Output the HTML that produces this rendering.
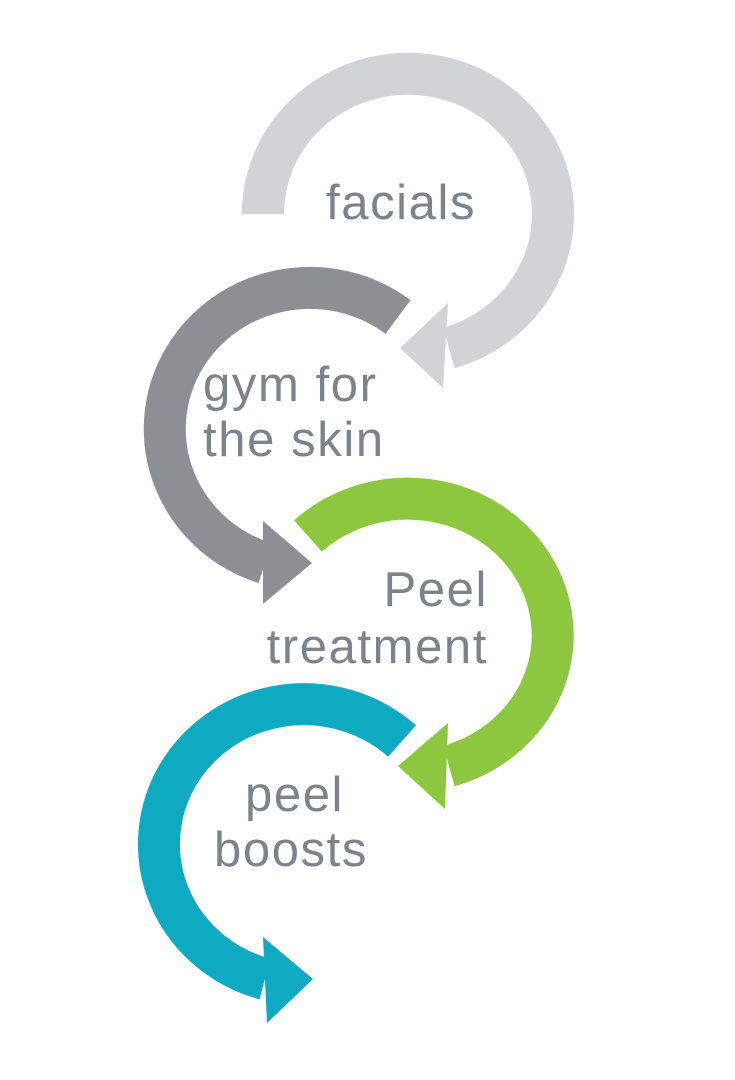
<!DOCTYPE html>
<html><head><meta charset="utf-8"><style>
html,body{margin:0;padding:0;background:#fff;}
svg{display:block;}
text{font-family:"Liberation Sans",sans-serif;fill:#7e838a;font-size:49px;letter-spacing:1.6px;}
</style></head><body>
<svg width="735" height="1080" viewBox="0 0 735 1080">
<path d="M263,214 A145,140 0 1 1 449,348" fill="none" stroke="#d1d3d4" stroke-width="42"/>
<polygon points="448,303 400,348 443,388" fill="#d1d3d4"/>
<path d="M398,317 A145,141 0 1 0 265,563" fill="none" stroke="#8e8f94" stroke-width="42"/>
<polygon points="263,521 312,563 263,604" fill="#8e8f94"/>
<path d="M308,536 A145,136.5 0 1 1 449,766" fill="none" stroke="#8dc63f" stroke-width="42"/>
<polygon points="448,723 398,766 445,809" fill="#8dc63f"/>
<path d="M402,741 A145,140 0 1 0 265,979" fill="none" stroke="#0eaac1" stroke-width="42"/>
<polygon points="263,937 313,979 267,1023" fill="#0eaac1"/>
<text x="326" y="219">facials</text>
<text x="203" y="401">gym for</text>
<text x="203" y="456">the skin</text>
<text x="488" y="606" text-anchor="end">Peel</text>
<text x="488" y="663" text-anchor="end">treatment</text>
<text x="245" y="811">peel</text>
<text x="214" y="866">boosts</text>
</svg>
</body></html>
